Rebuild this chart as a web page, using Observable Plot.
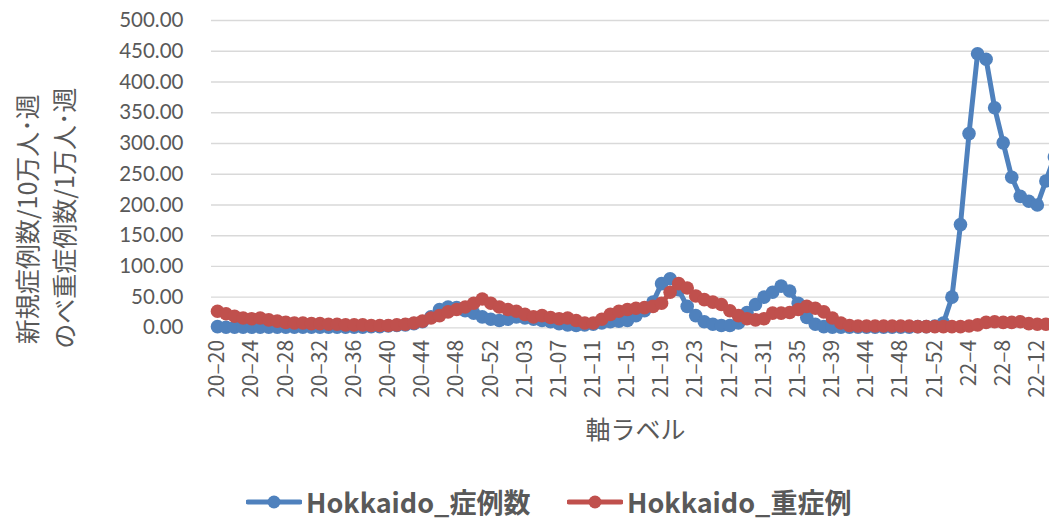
<!DOCTYPE html>
<html><head><meta charset="utf-8">
<script src="https://cdn.jsdelivr.net/npm/d3@7"></script>
<script src="https://cdn.jsdelivr.net/npm/@observablehq/plot@0.6"></script>
<style>
html,body{margin:0;padding:0;background:#fff;overflow:hidden;width:1049px;height:519px;}
#chart svg{overflow:hidden;display:block}
#legend{position:relative;height:39px;font-family:"Noto Sans CJK JP";font-weight:bold;font-size:27px;color:#595959;white-space:nowrap;}
.item{position:absolute;top:7px;height:30px;line-height:30px;display:flex;align-items:center;}
.item span{line-height:30px;display:block}
.item svg{margin-right:4px}
</style></head><body>
<div id="chart"></div>
<div id="legend"></div>
<script>
const weeks = [
"20-20","20-21","20-22","20-23","20-24","20-25","20-26","20-27","20-28","20-29",
"20-30","20-31","20-32","20-33","20-34","20-35","20-36","20-37","20-38","20-39",
"20-40","20-41","20-42","20-43","20-44","20-45","20-46","20-47","20-48","20-49",
"20-50","20-51","20-52","20-53","21-01","21-02","21-03","21-04","21-05","21-06",
"21-07","21-08","21-09","21-10","21-11","21-12","21-13","21-14","21-15","21-16",
"21-17","21-18","21-19","21-20","21-21","21-22","21-23","21-24","21-25","21-26",
"21-27","21-28","21-29","21-30","21-31","21-32","21-33","21-34","21-35","21-36",
"21-37","21-38","21-39","21-40","21-41","21-43","21-44","21-45","21-46","21-47",
"21-48","21-49","21-50","21-51","21-52","22-1","22-2","22-3","22-4","22-5",
"22-6","22-7","22-8","22-9","22-10","22-11","22-12","22-13","22-14"];
const cases = [
2,1,1,1,1,1,1,1,1,1,
1,1,1,1,1,1,1,1,2,2,
3,4,5,7,10,18,30,34,33,28,
24,18,14,12,14,18,16,14,12,10,
7,5,4,5,6,8,10,11,12,20,
28,42,72,80,62,35,20,10,6,4,
4,8,25,38,50,58,68,60,40,17,
6,2,1,1,1,1,1,1,1,1,
1,1,2,2,3,8,50,168,316,446,
437,358,301,245,214,206,200,239,278];
const severe = [
27,23,19,16,15,16,13,11,9,8,
8,7,7,6,6,5,5,5,4,4,
4,5,6,8,11,16,20,26,30,34,
40,47,40,34,30,27,22,18,20,17,
15,16,12,8,8,14,22,27,30,32,
33,35,40,58,72,65,52,46,42,38,
28,20,15,13,15,24,24,25,30,35,
32,26,16,8,4,3,3,3,3,3,
3,3,2,2,2,2,2,2,3,5,
9,10,9,9,10,7,6,6,5];
const yTicks = [0,50,100,150,200,250,300,350,400,450,500];
const seriesNames = ["Hokkaido_症例数","Hokkaido_重症例"];
const colors = ["#4F81BD","#C0504D"];
const yTitle1 = "新規症例数/10万人･週";
const yTitle2 = "のべ重症例数/1万人･週";
const xTitle = "軸ラベル";

const rows1 = weeks.map((w,i)=>({week:w, value:cases[i]}));
const rows2 = weeks.map((w,i)=>({week:w, value:severe[i]}));
const step = 8.54;

const chart = Plot.plot({
  width:1049, height:480,
  marginLeft:211, marginRight:0, marginTop:20, marginBottom:152.6,
  style:{color:"#595959", background:"white", overflow:"hidden"},
  x:{type:"point", domain:weeks, range:[217, 217+step*(weeks.length-1)], padding:0},
  y:{domain:[0,500]},
  marks:[
    Plot.gridY(yTicks,{stroke:"#d9d9d9", strokeOpacity:1, strokeWidth:1.4}),
    Plot.axisY(yTicks,{tickSize:0, tickPadding:28, tickFormat:d=>d.toFixed(2), fontSize:20.5, fontFamily:"Lato", label:null}),
    Plot.axisX(weeks.filter((d,i)=>i%4===0),{tickSize:0, tickPadding:12, tickRotate:-90, fontSize:21, fontFamily:"Noto Sans CJK JP", tickFormat:d=>d.replace("-","–"), label:null}),
    Plot.line(rows1,{x:"week", y:"value", stroke:colors[0], strokeWidth:5, curve:"linear"}),
    Plot.dot(rows1,{x:"week", y:"value", r:6.8, fill:colors[0], stroke:"none"}),
    Plot.line(rows2,{x:"week", y:"value", stroke:colors[1], strokeWidth:5, curve:"linear"}),
    Plot.dot(rows2,{x:"week", y:"value", r:6.8, fill:colors[1], stroke:"none"}),
    Plot.text([yTitle1],{text:d=>d, frameAnchor:"left", textAnchor:"middle", rotate:-90, dx:-183, dy:45, fontSize:25, fontFamily:"Noto Sans CJK JP", fill:"#595959"}),
    Plot.text([yTitle2],{text:d=>d, frameAnchor:"left", textAnchor:"middle", rotate:-90, dx:-146, dy:44, fontSize:25, fontFamily:"Noto Sans CJK JP", fill:"#595959"}),
    Plot.text([xTitle],{text:d=>d, frameAnchor:"bottom", textAnchor:"middle", dx:5, dy:111, fontSize:25, fontFamily:"Noto Sans CJK JP", fill:"#595959"})
  ]
});
document.getElementById("chart").appendChild(chart);

const legend = document.getElementById("legend");
const lefts = [246, 567];
seriesNames.forEach((name,i)=>{
  const item = document.createElement("div");
  item.className = "item";
  item.style.left = lefts[i] + "px";
  item.innerHTML = `<svg width="56" height="16"><line x1="2" y1="8" x2="54" y2="8" stroke="${colors[i]}" stroke-width="5" stroke-linecap="round"/><circle cx="28" cy="8" r="6.5" fill="${colors[i]}"/></svg><span>${name}</span>`;
  legend.appendChild(item);
});
</script>
</body></html>
